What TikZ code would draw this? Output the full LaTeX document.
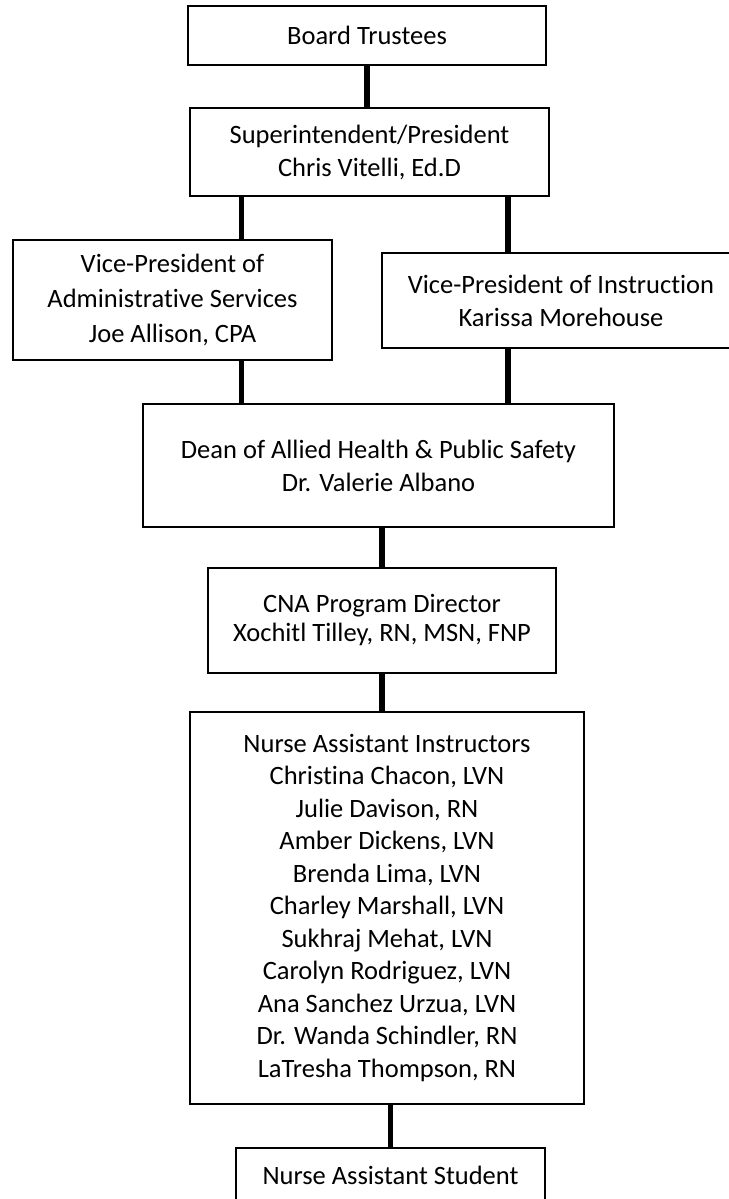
\documentclass[tikz,border=0pt]{standalone}
\usepackage{fontspec}
\setmainfont[Ligatures=NoCommon]{Carlito}
\tikzset{
  unit/.style={draw, line width=1.5pt, align=center, inner sep=0pt,
    font=\fontsize{26.5}{33}\selectfont},
  link/.style={line width=5.5pt}
}
\begin{document}
\begin{tikzpicture}[x=1pt,y=-1pt]
\useasboundingbox (0,0) rectangle (728,1199);

%Columns of the side connectors
\coordinate (colL) at (241.5,0);
\coordinate (colR) at (508,0);

%Shape: Rectangle
\node (board) [unit, minimum width=358, minimum height=59] at (367,35.5) {Board Trustees};
%Shape: Rectangle
\node (super) [unit, minimum width=359, minimum height=88] at (369.5,152) {Superintendent/President\\Chris Vitelli, Ed.D};
%Shape: Rectangle
\node (vpadm) [unit, minimum width=319, minimum height=120, font=\fontsize{26.5}{35}\selectfont] at (172.5,300) {Vice-President of\\Administrative Services\\Joe Allison, CPA};
%Shape: Rectangle (runs off the page on the right)
\node (vpins) [unit, minimum width=358, minimum height=95] at (561,300.5) {Vice-President of Instruction\\Karissa Morehouse};
%Shape: Rectangle
\node (dean) [unit, minimum width=471, minimum height=123] at (378.5,465.5) {Dean of Allied Health \& Public Safety\\Dr. Valerie Albano};
%Shape: Rectangle
\node (cna) [unit, minimum width=348, minimum height=105, font=\fontsize{26.5}{29}\selectfont] at (382,620.5) {CNA Program Director\\Xochitl Tilley, RN, MSN, FNP};
%Shape: Rectangle
\node (instr) [unit, minimum width=394, minimum height=392, font=\fontsize{26.5}{32.5}\selectfont] at (387,908) {Nurse Assistant Instructors\\Christina Chacon, LVN\\Julie Davison, RN\\Amber Dickens, LVN\\Brenda Lima, LVN\\Charley Marshall, LVN\\Sukhraj Mehat, LVN\\Carolyn Rodriguez, LVN\\Ana Sanchez Urzua, LVN\\Dr. Wanda Schindler, RN\\LaTresha Thompson, RN};
%Shape: Rectangle (runs off the page at the bottom)
\node (student) [unit, anchor=north, minimum width=309, inner ysep=18pt, text depth=60pt] at (390.5,1147) {Nurse Assistant Student};

%Straight Lines
\draw [link] (board.south) -- (board.south |- super.north);
\draw [link] (super.south -| colL) -- (vpadm.north -| colL);
\draw [link] (super.south -| colR) -- (vpins.north -| colR);
\draw [link] (vpadm.south -| colL) -- (dean.north -| colL);
\draw [link] (vpins.south -| colR) -- (dean.north -| colR);
\draw [link] (cna.north |- dean.south) -- (cna.north);
\draw [link] (cna.south) -- (cna.south |- instr.north);
\draw [link] (student.north |- instr.south) -- (student.north);

\end{tikzpicture}
\end{document}
